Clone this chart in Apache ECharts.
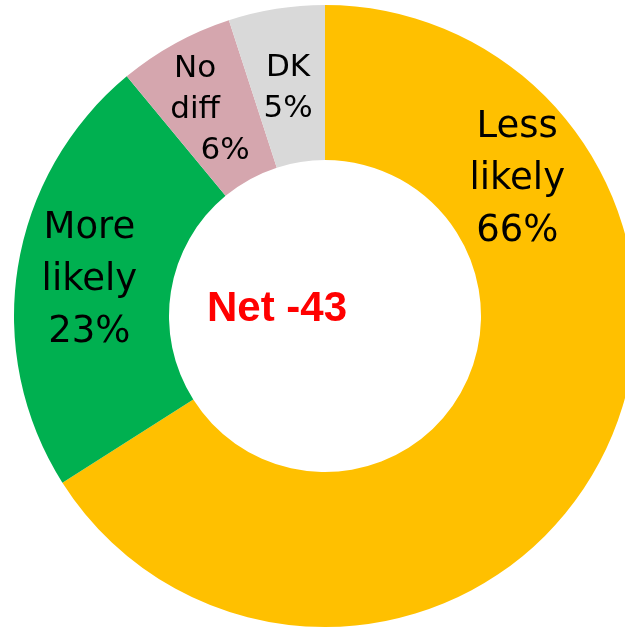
<!DOCTYPE html>
<html>
<head>
<meta charset="utf-8">
<script src="https://cdn.jsdelivr.net/npm/echarts@6/dist/echarts.min.js"></script>
<style>
  html, body { margin: 0; padding: 0; background: #fff; }
  #chart { width: 625px; height: 631px; }
</style>
</head>
<body>
<div id="chart"></div>
<script>
// data
const categories = ["Less likely", "More likely", "No diff", "DK"];
const values = [66, 23, 6, 5];
const colors = ["#FFC000", "#00B050", "#D5A6AE", "#D9D9D9"];
const net = values[1] - values[0]; // -43

// label placement tweaks (Excel put them by hand)
const labelOffsets = [[-15, -251], [-2, 1], [-16, 1], [0, 6]];
const labelSizes = [37, 37, 31, 31];
const lineHeights = [52, 52, 41, 41];

let chart = echarts.init(document.getElementById("chart"));

let data = categories.map((name, i) => {
  let words = name.split(" ");
  let pct = values[i] + "%";
  // "6%" sits shifted right under "No diff"
  if (name === "No diff") pct = "{p|" + pct + "}";
  return {
    name: name,
    value: values[i],
    itemStyle: { color: colors[i] },
    label: {
      formatter: words.join("\n") + "\n" + pct,
      offset: labelOffsets[i],
      fontSize: labelSizes[i],
      lineHeight: lineHeights[i],
      rich: {
        p: {
          fontSize: labelSizes[i],
          lineHeight: lineHeights[i],
          fontFamily: "DejaVu Sans",
          color: "#000",
          padding: [0, 0, 0, 60],
        },
      },
    },
  };
});

let option = {
  animation: false,
  series: [
    {
      type: "pie",
      center: [325, 316],
      radius: [156, 311],
      startAngle: 90,
      clockwise: true,
      avoidLabelOverlap: false,
      silent: true,
      label: {
        show: true,
        position: "inside",
        color: "#000",
        fontFamily: "DejaVu Sans",
        align: "center",
      },
      labelLine: { show: false },
      itemStyle: { borderWidth: 0 },
      data: data,
    },
  ],
  graphic: [
    {
      type: "text",
      left: 207,
      top: 288,
      style: {
        text: "Net " + net,
        fill: "#FF0000",
        font: "bold 42px 'Liberation Sans', Arial",
      },
    },
  ],
};
chart.setOption(option);
</script>
</body>
</html>
